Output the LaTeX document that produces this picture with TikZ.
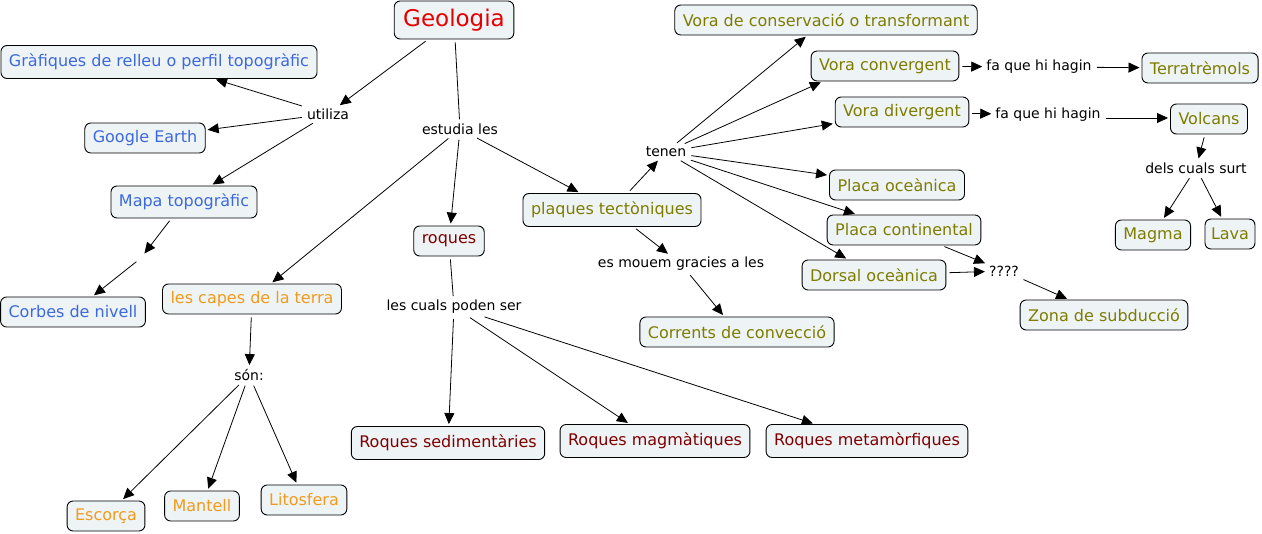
\documentclass[tikz,border=0pt]{standalone}
\usepackage{fontspec}
\setmainfont{DejaVu Sans}
\usetikzlibrary{arrows.meta}
\definecolor{cfill}{RGB}{238,243,246}
\definecolor{cblue}{RGB}{60,105,220}
\definecolor{corange}{RGB}{240,155,30}
\definecolor{cdred}{RGB}{128,0,0}
\definecolor{colive}{RGB}{125,125,0}
\definecolor{cred}{RGB}{230,0,0}
\tikzset{
  concept/.style={draw=black, line width=0.9pt, rounded corners=6pt, fill=cfill,
    inner xsep=8pt, inner ysep=0pt, minimum height=30pt,
    font=\fontsize{16}{19}\selectfont},
  bluec/.style={concept, text=cblue},
  orangec/.style={concept, text=corange},
  redc/.style={concept, text=cdred},
  olivec/.style={concept, text=colive},
  linkp/.style={inner sep=2pt, font=\fontsize{14}{17}\selectfont, text=black},
  conn/.style={line width=0.8pt, draw=black, shorten <=3pt, shorten >=2pt},
  arr/.style={conn, -{Triangle[length=11pt,width=10pt]}},
}
\begin{document}
\begin{tikzpicture}[x=1pt,y=-1pt]
\useasboundingbox (0,0) rectangle (1262,534);
% concepts
\node[concept, text=cred, font=\fontsize{23}{26}\selectfont, minimum height=38pt, inner xsep=9pt] (geo) at (454,20) {Geologia};
\node[bluec, minimum height=33pt] (graf) at (159,62) {Gràfiques de relleu o perfil topogràfic};
\node[bluec] (google) at (145,138) {Google Earth};
\node[bluec, minimum height=32pt] (mapa) at (184,202) {Mapa topogràfic};
\node[bluec] (corbes) at (73,312) {Corbes de nivell};
\node[orangec] (capes) at (252,299) {les capes de la terra};
\node[orangec] (escorca) at (106,516) {Escorça};
\node[orangec] (mantell) at (202,506) {Mantell};
\node[orangec] (lito) at (304,500) {Litosfera};
\node[redc] (roques) at (449,241) {roques};
\node[redc, minimum height=33pt] (sed) at (448,443) {Roques sedimentàries};
\node[redc, minimum height=33pt] (mag) at (655,441) {Roques magmàtiques};
\node[redc, minimum height=33pt] (meta) at (867,441) {Roques metamòrfiques};
\node[olivec, minimum height=33pt] (plaques) at (612,210) {plaques tectòniques};
\node[olivec] (corrents) at (737,332) {Corrents de convecció};
\node[olivec] (vcons) at (826,20) {Vora de conservació o transformant};
\node[olivec] (vconv) at (885,66) {Vora convergent};
\node[olivec] (terra) at (1200,68) {Terratrèmols};
\node[olivec] (vdiv) at (902,112) {Vora divergent};
\node[olivec] (volcans) at (1209,119) {Volcans};
\node[olivec] (magma) at (1153,235) {Magma};
\node[olivec, inner xsep=6pt] (lava) at (1230,234) {Lava};
\node[olivec] (poc) at (897,185) {Placa oceànica};
\node[olivec] (pcont) at (904,230) {Placa continental};
\node[olivec] (dorsal) at (874,275) {Dorsal oceànica};
\node[olivec] (zona) at (1104,315) {Zona de subducció};
% linking phrases
\node[linkp] (utiliza) at (328,114) {utiliza};
\node[linkp] (estudia) at (460,129) {estudia les};
\node[linkp, minimum width=4pt, minimum height=10pt] (buit) at (141,258) {};
\node[linkp] (son) at (249,375) {són:};
\node[linkp] (cuals) at (454,307) {les cuals poden ser};
\node[linkp] (mouem) at (681,264) {es mouem gracies a les};
\node[linkp] (tenen) at (666,152) {tenen};
\node[linkp] (fa1) at (1039,67) {fa que hi hagin};
\node[linkp] (fa2) at (1048,115) {fa que hi hagin};
\node[linkp] (dels) at (1196,168) {dels cuals surt};
\node[linkp] (qq) at (1004,271) {????};
% connectors
\draw[arr] (geo) -- (utiliza);
\draw[conn] (geo) -- (estudia);
\draw[arr] (utiliza) -- (graf);
\draw[arr] (utiliza) -- (google);
\draw[arr] (utiliza) -- (mapa);
\draw[arr] (mapa) -- (buit);
\draw[arr] (buit) -- (corbes);
\draw[arr] (estudia) -- (capes);
\draw[arr] (estudia) -- (roques);
\draw[arr] (estudia) -- (plaques);
\draw[arr] (capes) -- (son);
\draw[arr] (son) -- (escorca);
\draw[arr] (son) -- (mantell);
\draw[arr] (son) -- (lito);
\draw[conn] (roques) -- (cuals);
\draw[arr] (cuals) -- (sed);
\draw[arr] (cuals) -- (mag);
\draw[arr] (cuals) -- (meta);
\draw[arr] (plaques) -- (tenen);
\draw[arr] (plaques) -- (mouem);
\draw[arr] (mouem) -- (corrents);
\draw[arr] (tenen) -- (vcons);
\draw[arr] (tenen) -- ([xshift=12pt]vconv.south west);
\draw[arr] (tenen) -- (vdiv);
\draw[arr] (tenen) -- (poc);
\draw[arr] (tenen) -- (pcont);
\draw[arr] (tenen) -- (dorsal);
\draw[arr] (vconv) -- (fa1);
\draw[arr] (fa1) -- (terra);
\draw[arr] (vdiv) -- (fa2);
\draw[arr] ([yshift=-3pt]fa2.east) -- ([yshift=-3pt]fa2.east -| volcans.west);
\draw[arr] (volcans) -- (dels);
\draw[arr] (dels) -- (magma);
\draw[arr] (dels) -- (lava);
\draw[arr] (pcont) -- (qq);
\draw[arr] (dorsal) -- (qq);
\draw[arr] (qq) -- (zona);
\end{tikzpicture}
\end{document}
